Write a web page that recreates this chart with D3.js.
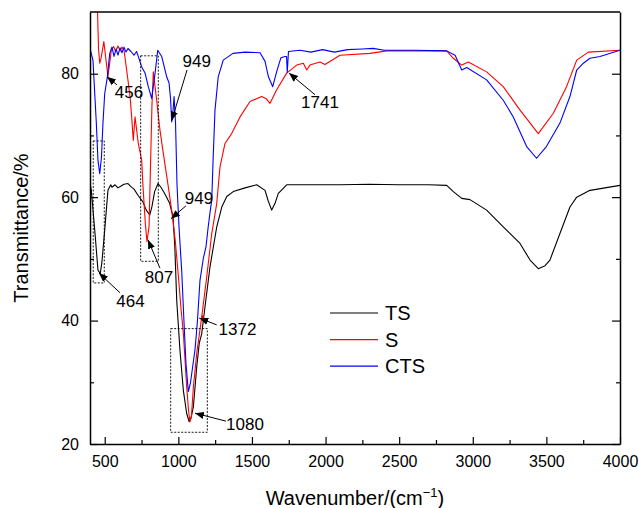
<!DOCTYPE html>
<html><head><meta charset="utf-8">
<script src="https://cdn.jsdelivr.net/npm/d3@7/dist/d3.min.js"></script>
<style>body{margin:0;background:#fff;} text{font-family:"Liberation Sans",Arial,sans-serif;fill:#000;}</style>
</head><body><svg id="c" width="639" height="508"></svg>
<script>
// ---- data (wavenumber cm^-1, transmittance %) ----
const tsWave = [400,409,432,454,470,481,500,522,541,549,570,590,611,631,658,678,699,726,760,782,806,821,839,862,882,907,941,964,976,989,1011,1034,1057,1074,1086,1102,1125,1142,1159,1181,1215,1261,1295,1329,1373,1453,1532,1589,1609,1634,1657,1679,1736,1900,2100,2300,2500,2700,2823,2868,2925,2981,3094,3207,3321,3389,3445,3491,3524,3592,3660,3706,3796,3898,4000];
const tsVal  = [62.2,61.1,54.7,48.2,47.6,49.5,54.7,61.1,62.0,61.6,62.0,61.5,61.8,62.1,62.2,61.7,61.3,60.3,59.2,57.9,57.1,58.5,60.9,62.2,61.6,60.6,59.0,56.8,52.0,43.3,35.2,28.7,24.9,23.6,24.2,26.0,32.5,36.3,37.9,42.2,48.7,55.2,58.4,60.1,60.9,61.5,62.0,61.1,59.5,57.9,59.0,60.6,62.0,62.0,62.0,62.1,62.0,62.0,61.9,60.9,59.8,59.6,57.9,55.2,52.5,49.8,48.4,48.9,49.8,54.1,58.4,60.0,61.1,61.5,61.9];

const sWave = [400,440,450,458,466,475,494,522,545,560,574,590,604,617,631,649,672,683,694,706,728,751,760,776,787,801,811,821,830,853,875,898,930,957,979,1001,1018,1034,1057,1069,1079,1089,1102,1125,1159,1193,1227,1261,1283,1317,1362,1419,1487,1566,1595,1623,1668,1736,1804,1849,1872,1894,1962,1996,2098,2302,2415,2823,2868,2925,2970,3094,3207,3321,3445,3547,3637,3706,3785,4000];
const sVal  = [97,96,91,84,81.7,82.5,85.2,79.5,83.8,84.4,83.6,84.5,83.7,84.3,83.8,80.6,76.3,73.0,69.2,73.0,68.7,66.0,61.7,55.7,52.8,55.2,65.0,75.0,80.3,75.7,70.9,67.1,62.0,57.5,53.0,47.0,42.0,38.0,29.2,25.5,23.6,24.5,29.2,34.7,40.6,47.1,54.1,59.0,64.9,68.7,70.3,73.0,75.5,76.3,76.0,75.2,77.4,80.1,81.4,81.7,80.6,81.4,81.9,81.5,83.0,83.3,83.7,83.7,82.5,81.4,81.9,80.3,77.9,74.1,70.3,73.6,77.9,82.2,83.5,83.8];

const ctsWave = [400,420,443,454,466,478,488,500,518,534,549,563,577,590,604,617,631,645,658,678,699,716,728,751,774,796,819,842,860,887,921,937,947,955,964,971,981,991,1005,1023,1038,1052,1068,1083,1100,1113,1130,1147,1170,1188,1202,1215,1227,1236,1249,1271,1305,1371,1453,1555,1589,1612,1641,1670,1697,1725,1735,1740,1748,1826,1900,1980,2060,2150,2250,2322,2400,2600,2823,2880,2925,2959,3094,3207,3275,3366,3433,3500,3592,3660,3706,3751,3796,3864,4000];
const ctsVal  = [84.1,82.2,72,66,63.8,66.5,72,76.8,79.5,83.3,84.3,82.8,84.0,83.0,84.2,83.4,84.3,83.5,84.1,83.6,83.0,83.6,82.8,81.1,80.1,77.9,76.0,80.1,83.8,82.8,79.5,78.5,76.0,72.2,74.0,76.3,72.0,62.0,55.0,48.0,40.0,33.0,28.5,30.0,33.0,35.2,40.0,46.5,50.1,52.0,55.0,57.5,59.5,66.0,74.1,79.5,82.2,83.3,83.5,83.4,82.0,79.5,77.9,80.5,82.6,82.8,82.8,80.2,83.6,83.8,83.5,83.9,83.5,83.9,84.0,84.1,83.8,83.8,83.7,83.0,80.6,81.0,79.0,75.7,73.0,68.2,66.3,68.2,72.0,76.3,80.6,81.7,82.5,82.8,83.8];

const seriesNames = ["TS","S","CTS"];
const seriesColors = ["#000000","#ff0000","#0000ff"];
const xTicks = [500,1000,1500,2000,2500,3000,3500,4000];
const yTicks = [20,40,60,80];

// annotations: label, tip [w,T], tail [w,T], label centre [w,T]
const annLabels = ["456","949","1741","949","807","464","1372","1080"];
const annTip  = [[515,79.5],[955,72.4],[1752,80.1],[950,56.5],[794,53.1],[461,47.7],[1142,40.4],[1113,25.0]];
const annTail = [[583,78.2],[1059,80.6],[1928,76.6],[1052,58.6],[875,48.5],[604,44.5],[1261,39.3],[1324,23.7]];
const annText = [[665,76.9],[1125,81.9],[1962,75.3],[1140,59.7],[869,47.0],[675,43.1],[1402,38.5],[1453,23.1]];
// dotted boxes [w0,w1,T0,T1]
const boxes = [[422,497,46.1,69.1],[744,864,49.6,82.9],[948,1197,21.9,38.7]];

// ---- drawing ----
const W=639,H=508, m={l:90,t:12,r:19,b:64};
const svg=d3.select("#c");
const x=d3.scaleLinear().domain([400,4000]).range([m.l,W-m.r]);
const y=d3.scaleLinear().domain([20,90]).range([444,m.t]);
const fmt=d3.format("d");

svg.append("defs").append("clipPath").attr("id","clip").append("rect")
  .attr("x",m.l).attr("y",m.t).attr("width",W-m.r-m.l).attr("height",444-m.t);
const mk=svg.select("defs").append("marker").attr("id","arr").attr("viewBox","0 0 10 10")
  .attr("refX",10).attr("refY",5).attr("markerWidth",9).attr("markerHeight",9)
  .attr("markerUnits","userSpaceOnUse").attr("orient","auto");
mk.append("path").attr("d","M0,1 L10,5 L0,9 Z").attr("fill","#000");

const line=d3.line().x(d=>x(d[0])).y(d=>y(d[1]));
const allData=[d3.zip(tsWave,tsVal), d3.zip(sWave,sVal), d3.zip(ctsWave,ctsVal)];
const g=svg.append("g").attr("clip-path","url(#clip)");
allData.forEach((d,i)=>{
  g.append("path").datum(d).attr("d",line).attr("fill","none")
   .attr("stroke",seriesColors[i]).attr("stroke-width",1.1).attr("stroke-linejoin","round");
});

// boxes
boxes.forEach(b=>{
  svg.append("rect").attr("x",x(b[0])).attr("y",y(b[3]))
    .attr("width",x(b[1])-x(b[0])).attr("height",y(b[2])-y(b[3]))
    .attr("fill","none").attr("stroke","#000").attr("stroke-width",0.9).attr("stroke-dasharray","2,1.5");
});
// red marker at 1372
svg.append("circle").attr("cx",x(1165)).attr("cy",y(40.6)).attr("r",1.6).attr("fill","#ff0000");

// arrows + labels
annLabels.forEach((t,i)=>{
  svg.append("line").attr("x1",x(annTail[i][0])).attr("y1",y(annTail[i][1]))
    .attr("x2",x(annTip[i][0])).attr("y2",y(annTip[i][1]))
    .attr("stroke","#000").attr("stroke-width",1).attr("marker-end","url(#arr)");
  svg.append("text").attr("x",x(annText[i][0])).attr("y",y(annText[i][1]))
    .attr("text-anchor","middle").attr("dominant-baseline","central")
    .attr("font-size",17).text(t);
});

// axes
const bottom=svg.append("g").attr("transform",`translate(0,444)`)
  .call(d3.axisBottom(x).tickValues(xTicks).tickFormat(fmt).tickSizeInner(-7).tickSizeOuter(0).tickPadding(12));
bottom.selectAll("text").attr("font-size",16).attr("font-family","Liberation Sans, Arial");
svg.append("g").attr("transform",`translate(0,444)`)
  .call(d3.axisBottom(x).tickValues(d3.range(750,4000,500)).tickSize(-4).tickFormat(""))
  .select(".domain").remove();
const left=svg.append("g").attr("transform",`translate(${m.l},0)`)
  .call(d3.axisLeft(y).tickValues(yTicks).tickFormat(fmt).tickSizeInner(-8).tickSizeOuter(0).tickPadding(11));
left.selectAll("text").attr("font-size",16).attr("font-family","Liberation Sans, Arial");
svg.append("g").attr("transform",`translate(${m.l},0)`)
  .call(d3.axisLeft(y).tickValues([30,50,70]).tickSize(-4).tickFormat(""))
  .select(".domain").remove();
svg.append("g").attr("transform",`translate(${W-m.r},0)`)
  .call(d3.axisRight(y).tickValues(yTicks).tickSizeInner(-8).tickSizeOuter(0).tickFormat(""));
svg.append("g").attr("transform",`translate(${W-m.r},0)`)
  .call(d3.axisRight(y).tickValues([30,50,70]).tickSize(-4).tickFormat(""))
  .select(".domain").remove();
svg.append("line").attr("x1",m.l).attr("x2",W-m.r).attr("y1",m.t).attr("y2",m.t).attr("stroke","#000").attr("stroke-width",1.3);
svg.selectAll(".domain").attr("stroke-width",1.5);
svg.selectAll(".tick line").attr("stroke-width",1.2);

// axis titles
const xt=svg.append("text").attr("x",355).attr("y",505).attr("text-anchor","middle").attr("font-size",20);
xt.append("tspan").text("Wavenumber/(cm");
xt.append("tspan").attr("font-size",13).attr("dy",-8).text("\u22121");
xt.append("tspan").attr("dy",8).text(")");
svg.append("text").attr("transform","translate(28,228) rotate(-90)").attr("text-anchor","middle")
  .attr("font-size",20).text("Transmittance/%");

// legend
const lg=svg.append("g");
seriesNames.forEach((n,i)=>{
  const ly=313+i*26.6;
  lg.append("line").attr("x1",330).attr("x2",378).attr("y1",ly).attr("y2",ly)
    .attr("stroke",seriesColors[i]).attr("stroke-width",1.2);
  lg.append("text").attr("x",385).attr("y",ly).attr("dominant-baseline","central")
    .attr("font-size",20).text(n);
});
</script></body></html>
